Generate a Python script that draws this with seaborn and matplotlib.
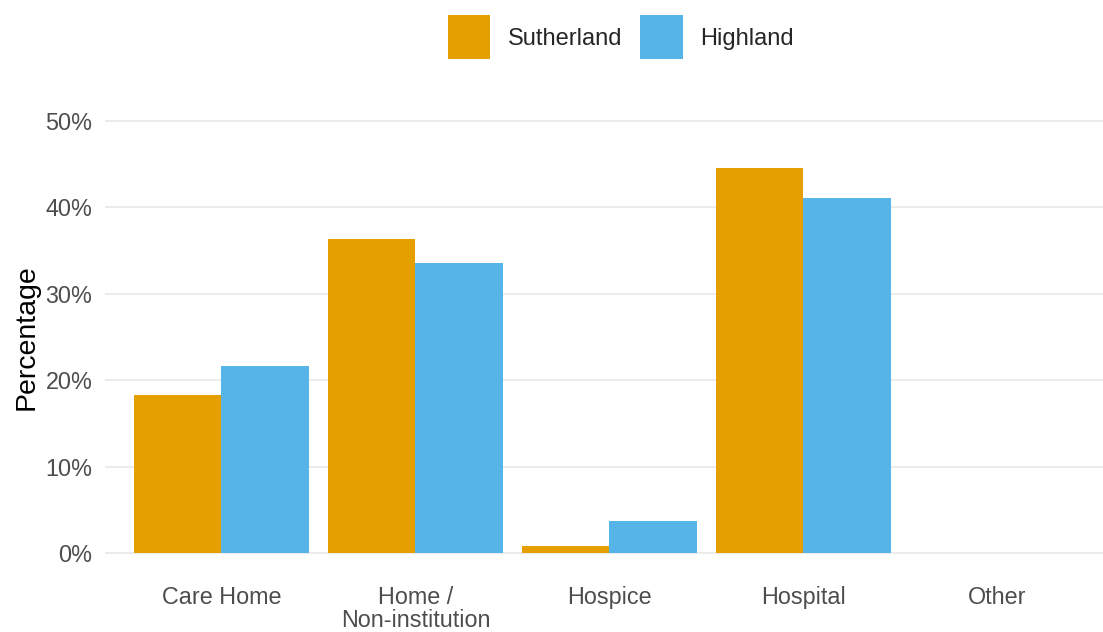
import numpy as np
import pandas as pd
import matplotlib.pyplot as plt
import seaborn as sns
from matplotlib.patches import Patch
from matplotlib.ticker import FuncFormatter

# veriler
places = ['Care Home', 'Home /\nNon-institution', 'Hospice', 'Hospital', 'Other']
sutherland = [18.3, 36.3, 0.8, 44.6, 0.0]
highland = [21.6, 33.6, 3.7, 41.1, 0.0]
areas = ['Sutherland', 'Highland']
colors = ['#E69F00', '#56B4E9']

df = pd.DataFrame({
    'Place': places * 2,
    'Area': ['Sutherland'] * len(places) + ['Highland'] * len(places),
    'Percentage': sutherland + highland,
})

sns.set_theme(style='white')
plt.rcParams['font.family'] = ['Liberation Sans', 'DejaVu Sans']

fig = plt.figure(figsize=(11.03, 6.32), dpi=100)
ax = fig.add_axes([105 / 1103, 57.4 / 632, 998 / 1103, 475.2 / 632])

sns.barplot(data=df, x='Place', y='Percentage', hue='Area',
            hue_order=areas, palette=colors, order=places,
            width=0.9, saturation=1, gap=0, linewidth=0, ax=ax)

ax.set_xlim(-0.6, -0.6 + 998 / 194)
ax.set_ylim(-2.5, 52.5)
ax.set_yticks([0, 10, 20, 30, 40, 50])
ax.yaxis.set_major_formatter(FuncFormatter(lambda v, p: f'{v:.0f}%'))
ax.grid(axis='y', color='#EBEBEB', linewidth=1.4)
ax.grid(axis='x', visible=False)
ax.set_axisbelow(True)
for s in ax.spines.values():
    s.set_visible(False)

ax.tick_params(axis='both', length=0, labelsize=16.8, colors='#4D4D4D')
ax.tick_params(axis='y', pad=9)
ax.tick_params(axis='x', pad=8)
for lbl in ax.get_xticklabels():
    lbl.set_linespacing(1.0)
ax.set_xlabel('')
ax.set_ylabel('Percentage', fontsize=20.5, color='black', labelpad=4)

ax.get_legend().remove()
handles = [Patch(facecolor=c, edgecolor='none', label=a) for a, c in zip(areas, colors)]
fig.legend(handles=handles, loc='upper center', bbox_to_anchor=(621 / 1103, 1 + 6 / 632),
           ncol=2, frameon=False, fontsize=17, handlelength=1.8, handleheight=2.5,
           handletextpad=0.75, columnspacing=0.75)

plt.savefig('out.png', dpi=100)
plt.close()
